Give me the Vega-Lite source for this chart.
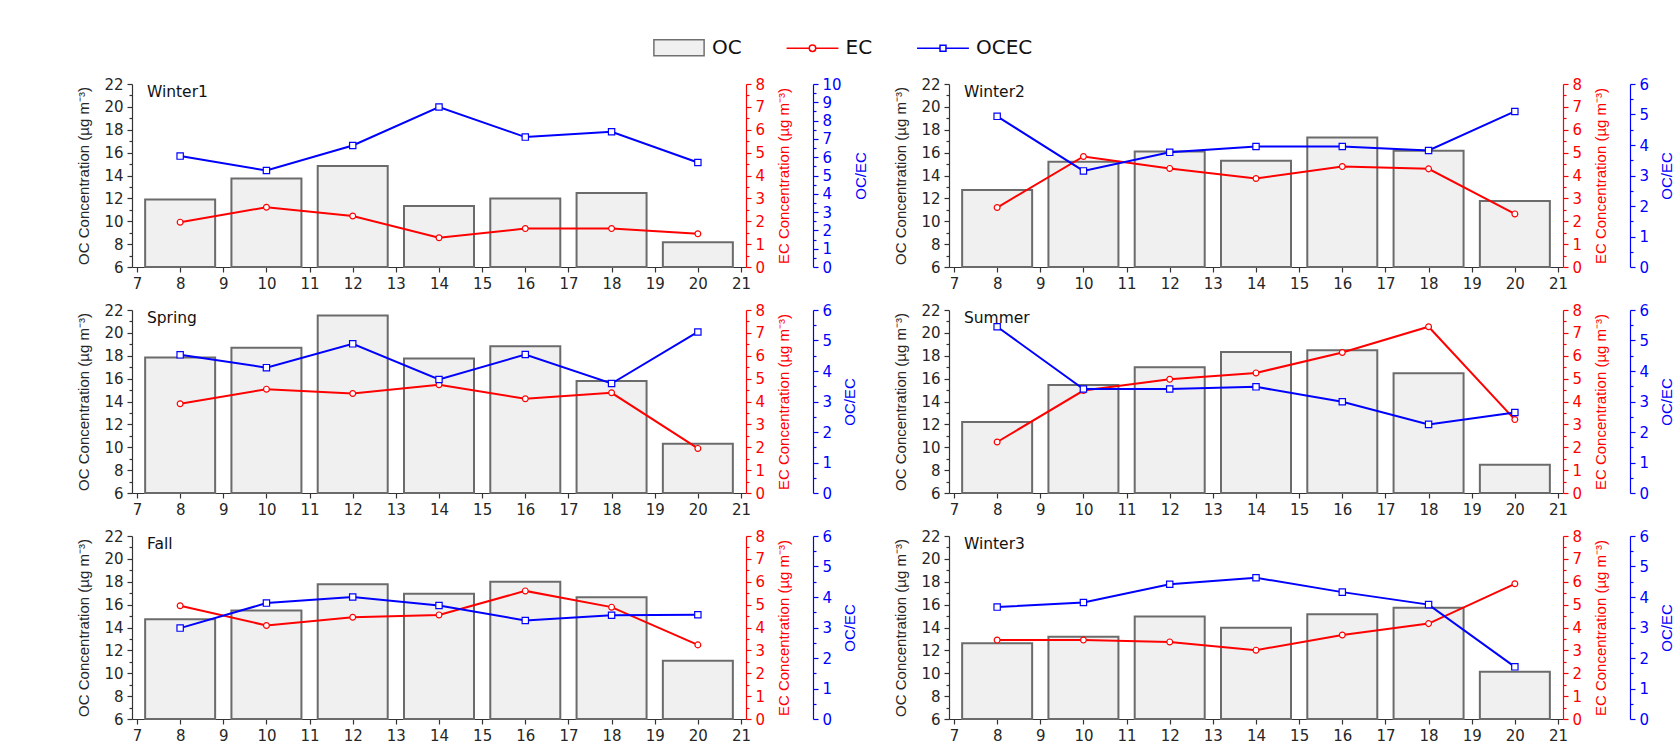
{
"$schema": "https://vega.github.io/schema/vega-lite/v6.json",
"background": "white",
"autosize": {"type": "none"},
"padding": {"left": 132, "top": 84, "right": 1544, "bottom": 662},
"data": {"values": [
{"p":"Winter1","h":8,"OC":11.9,"EC":1.96,"OCEC":6.06},
{"p":"Winter1","h":10,"OC":13.74,"EC":2.61,"OCEC":5.27},
{"p":"Winter1","h":12,"OC":14.82,"EC":2.23,"OCEC":6.64},
{"p":"Winter1","h":14,"OC":11.34,"EC":1.28,"OCEC":8.74},
{"p":"Winter1","h":16,"OC":11.99,"EC":1.68,"OCEC":7.1},
{"p":"Winter1","h":18,"OC":12.48,"EC":1.68,"OCEC":7.39},
{"p":"Winter1","h":20,"OC":8.16,"EC":1.45,"OCEC":5.71},
{"p":"Winter2","h":8,"OC":12.74,"EC":2.6,"OCEC":4.94},
{"p":"Winter2","h":10,"OC":15.2,"EC":4.83,"OCEC":3.15},
{"p":"Winter2","h":12,"OC":16.1,"EC":4.31,"OCEC":3.76},
{"p":"Winter2","h":14,"OC":15.28,"EC":3.87,"OCEC":3.95},
{"p":"Winter2","h":16,"OC":17.33,"EC":4.39,"OCEC":3.95},
{"p":"Winter2","h":18,"OC":16.16,"EC":4.29,"OCEC":3.82},
{"p":"Winter2","h":20,"OC":11.78,"EC":2.32,"OCEC":5.1},
{"p":"Spring","h":8,"OC":17.84,"EC":3.9,"OCEC":4.53},
{"p":"Spring","h":10,"OC":18.71,"EC":4.54,"OCEC":4.11},
{"p":"Spring","h":12,"OC":21.53,"EC":4.35,"OCEC":4.89},
{"p":"Spring","h":14,"OC":17.75,"EC":4.73,"OCEC":3.72},
{"p":"Spring","h":16,"OC":18.83,"EC":4.12,"OCEC":4.54},
{"p":"Spring","h":18,"OC":15.8,"EC":4.38,"OCEC":3.59},
{"p":"Spring","h":20,"OC":10.31,"EC":1.95,"OCEC":5.28},
{"p":"Summer","h":8,"OC":12.2,"EC":2.23,"OCEC":5.45},
{"p":"Summer","h":10,"OC":15.45,"EC":4.48,"OCEC":3.41},
{"p":"Summer","h":12,"OC":17.0,"EC":4.97,"OCEC":3.41},
{"p":"Summer","h":14,"OC":18.33,"EC":5.25,"OCEC":3.48},
{"p":"Summer","h":16,"OC":18.48,"EC":6.14,"OCEC":2.99},
{"p":"Summer","h":18,"OC":16.47,"EC":7.27,"OCEC":2.25},
{"p":"Summer","h":20,"OC":8.47,"EC":3.21,"OCEC":2.64},
{"p":"Fall","h":8,"OC":14.73,"EC":4.95,"OCEC":2.98},
{"p":"Fall","h":10,"OC":15.48,"EC":4.09,"OCEC":3.8},
{"p":"Fall","h":12,"OC":17.78,"EC":4.45,"OCEC":4.0},
{"p":"Fall","h":14,"OC":16.94,"EC":4.55,"OCEC":3.72},
{"p":"Fall","h":16,"OC":17.99,"EC":5.6,"OCEC":3.23},
{"p":"Fall","h":18,"OC":16.65,"EC":4.89,"OCEC":3.4},
{"p":"Fall","h":20,"OC":11.09,"EC":3.24,"OCEC":3.42},
{"p":"Winter3","h":8,"OC":12.63,"EC":3.45,"OCEC":3.67},
{"p":"Winter3","h":10,"OC":13.19,"EC":3.45,"OCEC":3.82},
{"p":"Winter3","h":12,"OC":14.96,"EC":3.37,"OCEC":4.42},
{"p":"Winter3","h":14,"OC":13.97,"EC":3.01,"OCEC":4.63},
{"p":"Winter3","h":16,"OC":15.16,"EC":3.67,"OCEC":4.16},
{"p":"Winter3","h":18,"OC":15.72,"EC":4.17,"OCEC":3.75},
{"p":"Winter3","h":20,"OC":10.13,"EC":5.91,"OCEC":1.71}
]},
"columns": 2,
"spacing": {"row": 43, "column": 203},
"bounds": "flush",
"concat": [
{
 "width": 614, "height": 183,
 "transform": [{"filter": "datum.p === 'Winter1'"}],
 "layer": [
  {"layer": [
    {"mark": {"type": "bar", "width": 70, "fill": "#f0f0f0", "stroke": "#6b6b6b", "strokeWidth": 2},
     "encoding": {
      "x": {"field": "h", "type": "quantitative", "scale": {"domain": [7,21], "nice": false, "zero": false},
            "axis": {"values": [7,8,9,10,11,12,13,14,15,16,17,18,19,20,21], "title": null, "domainColor": "#333333", "tickColor": "#333333", "labelColor": "#262626"}},
      "y": {"field": "OC", "type": "quantitative", "scale": {"domain": [6,22], "nice": false, "zero": false},
            "axis": {"orient": "left", "values": [6,8,10,12,14,16,18,20,22], "title": "OC Concentration (µg m⁻³)", "titleX": -49, "titleY": 91.5, "titleAngle": 270, "titleAlign": "center", "titleBaseline": "middle", "titleColor": "#262626", "domainColor": "#333333", "tickColor": "#333333", "labelColor": "#262626"}},
      "y2": {"datum": 6}
     }},
    {"data": {"values": [{"label": "Winter1"}]},
     "mark": {"type": "text", "align": "left", "baseline": "middle", "font": "DejaVu Sans", "fontSize": 15.5, "color": "#111111"},
     "encoding": {
      "x": {"datum": 7.23, "type": "quantitative"},
      "y": {"datum": 21.27, "type": "quantitative", "axis": {"orient": "left", "values": [7,9,11,13,15,17,19,21], "labels": false, "domain": false, "tickSize": 3, "tickColor": "#333333", "title": null}},
      "text": {"field": "label"}
     }}
   ],
   "resolve": {"axis": {"y": "independent"}}
  },
  {"layer": [
    {"mark": {"type": "line", "color": "#ff0000", "strokeWidth": 2},
     "encoding": {"x": {"field": "h", "type": "quantitative"},
      "y": {"field": "EC", "type": "quantitative", "scale": {"domain": [0,8], "nice": false, "zero": false},
       "axis": {"orient": "right", "values": [0,1,2,3,4,5,6,7,8], "title": "EC Concentration (µg m⁻³)", "titleX": 37, "titleY": 91.5, "titleAngle": 270, "titleAlign": "center", "titleBaseline": "middle", "titleColor": "#ff0000", "domainColor": "#ff0000", "tickColor": "#ff0000", "labelColor": "#ff0000"}}}},
    {"mark": {"type": "point", "shape": "circle", "filled": true, "fill": "#ffffff", "stroke": "#ff0000", "strokeWidth": 1.2, "size": 34, "opacity": 1},
     "encoding": {"x": {"field": "h", "type": "quantitative"},
      "y": {"field": "EC", "type": "quantitative", "axis": {"orient": "right", "values": [0.5,1.5,2.5,3.5,4.5,5.5,6.5,7.5], "labels": false, "domain": false, "tickSize": 3, "tickColor": "#ff0000", "title": null}}}}
   ],
   "resolve": {"axis": {"y": "independent"}}
  },
  {"layer": [
    {"mark": {"type": "line", "color": "#0000ff", "strokeWidth": 2},
     "encoding": {"x": {"field": "h", "type": "quantitative"},
      "y": {"field": "OCEC", "type": "quantitative", "scale": {"domain": [0,10], "nice": false, "zero": false},
       "axis": {"orient": "right", "offset": 67, "values": [0,1,2,3,4,5,6,7,8,9,10], "title": "OC/EC", "titleX": 47, "titleY": 91.5, "titleAngle": 270, "titleAlign": "center", "titleBaseline": "middle", "titleColor": "#0000ff", "domainColor": "#0000ff", "tickColor": "#0000ff", "labelColor": "#0000ff"}}}},
    {"mark": {"type": "point", "shape": "square", "filled": true, "fill": "#ffffff", "stroke": "#0000ff", "strokeWidth": 1.2, "size": 40, "opacity": 1},
     "encoding": {"x": {"field": "h", "type": "quantitative"},
      "y": {"field": "OCEC", "type": "quantitative", "axis": {"orient": "right", "offset": 67, "values": [0.5,1.5,2.5,3.5,4.5,5.5,6.5,7.5,8.5,9.5], "labels": false, "domain": false, "tickSize": 3, "tickColor": "#0000ff", "title": null}}}}
   ],
   "resolve": {"axis": {"y": "independent"}}
  },
  {"data": {"values": [{"s": "OC"}, {"s": "EC"}, {"s": "OCEC"}]},
   "mark": {"type": "point", "filled": true, "opacity": 0},
   "encoding": {
    "shape": {"field": "s", "type": "nominal", "scale": {"domain": ["OC","EC","OCEC"], "range": ["M-0.93,-0.3L0.93,-0.3L0.93,0.3L-0.93,0.3Z", "M-0.96,0L-0.12,0M0.12,0L0.96,0M0.12,0A0.12,0.12,0,1,1,-0.12,0A0.12,0.12,0,1,1,0.12,0Z", "M-0.96,0L-0.11,0M0.11,0L0.96,0M-0.11,-0.11L0.11,-0.11L0.11,0.11L-0.11,0.11Z"]},
      "legend": {"orient": "none", "legendX": 519, "legendY": -64.7, "direction": "horizontal", "columns": 3, "columnPadding": 41.5, "labelOffset": 5, "symbolSize": 2916, "symbolStrokeWidth": 1.5, "symbolOpacity": 1, "labelFont": "DejaVu Sans", "labelFontSize": 20, "labelColor": "#111111", "title": null, "padding": 0, "rowPadding": 0}},
    "stroke": {"field": "s", "type": "nominal", "scale": {"domain": ["OC","EC","OCEC"], "range": ["#707070", "#ff0000", "#0000ff"]},
      "legend": {"orient": "none", "legendX": 519, "legendY": -64.7, "direction": "horizontal", "columns": 3, "columnPadding": 41.5, "labelOffset": 5, "symbolSize": 2916, "symbolStrokeWidth": 1.5, "symbolOpacity": 1, "labelFont": "DejaVu Sans", "labelFontSize": 20, "labelColor": "#111111", "title": null, "padding": 0, "rowPadding": 0}},
    "fill": {"field": "s", "type": "nominal", "scale": {"domain": ["OC","EC","OCEC"], "range": ["#f0f0f0", "#ffffff", "#ffffff"]},
      "legend": {"orient": "none", "legendX": 519, "legendY": -64.7, "direction": "horizontal", "columns": 3, "columnPadding": 41.5, "labelOffset": 5, "symbolSize": 2916, "symbolStrokeWidth": 1.5, "symbolOpacity": 1, "labelFont": "DejaVu Sans", "labelFontSize": 20, "labelColor": "#111111", "title": null, "padding": 0, "rowPadding": 0}}
   }}
 ],
 "resolve": {"scale": {"y": "independent"}}
},
{
 "width": 614, "height": 183,
 "transform": [{"filter": "datum.p === 'Winter2'"}],
 "layer": [
  {"layer": [
    {"mark": {"type": "bar", "width": 70, "fill": "#f0f0f0", "stroke": "#6b6b6b", "strokeWidth": 2},
     "encoding": {
      "x": {"field": "h", "type": "quantitative", "scale": {"domain": [7,21], "nice": false, "zero": false},
            "axis": {"values": [7,8,9,10,11,12,13,14,15,16,17,18,19,20,21], "title": null, "domainColor": "#333333", "tickColor": "#333333", "labelColor": "#262626"}},
      "y": {"field": "OC", "type": "quantitative", "scale": {"domain": [6,22], "nice": false, "zero": false},
            "axis": {"orient": "left", "values": [6,8,10,12,14,16,18,20,22], "title": "OC Concentration (µg m⁻³)", "titleX": -49, "titleY": 91.5, "titleAngle": 270, "titleAlign": "center", "titleBaseline": "middle", "titleColor": "#262626", "domainColor": "#333333", "tickColor": "#333333", "labelColor": "#262626"}},
      "y2": {"datum": 6}
     }},
    {"data": {"values": [{"label": "Winter2"}]},
     "mark": {"type": "text", "align": "left", "baseline": "middle", "font": "DejaVu Sans", "fontSize": 15.5, "color": "#111111"},
     "encoding": {
      "x": {"datum": 7.23, "type": "quantitative"},
      "y": {"datum": 21.27, "type": "quantitative", "axis": {"orient": "left", "values": [7,9,11,13,15,17,19,21], "labels": false, "domain": false, "tickSize": 3, "tickColor": "#333333", "title": null}},
      "text": {"field": "label"}
     }}
   ],
   "resolve": {"axis": {"y": "independent"}}
  },
  {"layer": [
    {"mark": {"type": "line", "color": "#ff0000", "strokeWidth": 2},
     "encoding": {"x": {"field": "h", "type": "quantitative"},
      "y": {"field": "EC", "type": "quantitative", "scale": {"domain": [0,8], "nice": false, "zero": false},
       "axis": {"orient": "right", "values": [0,1,2,3,4,5,6,7,8], "title": "EC Concentration (µg m⁻³)", "titleX": 37, "titleY": 91.5, "titleAngle": 270, "titleAlign": "center", "titleBaseline": "middle", "titleColor": "#ff0000", "domainColor": "#ff0000", "tickColor": "#ff0000", "labelColor": "#ff0000"}}}},
    {"mark": {"type": "point", "shape": "circle", "filled": true, "fill": "#ffffff", "stroke": "#ff0000", "strokeWidth": 1.2, "size": 34, "opacity": 1},
     "encoding": {"x": {"field": "h", "type": "quantitative"},
      "y": {"field": "EC", "type": "quantitative", "axis": {"orient": "right", "values": [0.5,1.5,2.5,3.5,4.5,5.5,6.5,7.5], "labels": false, "domain": false, "tickSize": 3, "tickColor": "#ff0000", "title": null}}}}
   ],
   "resolve": {"axis": {"y": "independent"}}
  },
  {"layer": [
    {"mark": {"type": "line", "color": "#0000ff", "strokeWidth": 2},
     "encoding": {"x": {"field": "h", "type": "quantitative"},
      "y": {"field": "OCEC", "type": "quantitative", "scale": {"domain": [0,6], "nice": false, "zero": false},
       "axis": {"orient": "right", "offset": 67, "values": [0,1,2,3,4,5,6], "title": "OC/EC", "titleX": 36, "titleY": 91.5, "titleAngle": 270, "titleAlign": "center", "titleBaseline": "middle", "titleColor": "#0000ff", "domainColor": "#0000ff", "tickColor": "#0000ff", "labelColor": "#0000ff"}}}},
    {"mark": {"type": "point", "shape": "square", "filled": true, "fill": "#ffffff", "stroke": "#0000ff", "strokeWidth": 1.2, "size": 40, "opacity": 1},
     "encoding": {"x": {"field": "h", "type": "quantitative"},
      "y": {"field": "OCEC", "type": "quantitative", "axis": {"orient": "right", "offset": 67, "values": [0.5,1.5,2.5,3.5,4.5,5.5], "labels": false, "domain": false, "tickSize": 3, "tickColor": "#0000ff", "title": null}}}}
   ],
   "resolve": {"axis": {"y": "independent"}}
  }
 ],
 "resolve": {"scale": {"y": "independent"}}
},
{
 "width": 614, "height": 183,
 "transform": [{"filter": "datum.p === 'Spring'"}],
 "layer": [
  {"layer": [
    {"mark": {"type": "bar", "width": 70, "fill": "#f0f0f0", "stroke": "#6b6b6b", "strokeWidth": 2},
     "encoding": {
      "x": {"field": "h", "type": "quantitative", "scale": {"domain": [7,21], "nice": false, "zero": false},
            "axis": {"values": [7,8,9,10,11,12,13,14,15,16,17,18,19,20,21], "title": null, "domainColor": "#333333", "tickColor": "#333333", "labelColor": "#262626"}},
      "y": {"field": "OC", "type": "quantitative", "scale": {"domain": [6,22], "nice": false, "zero": false},
            "axis": {"orient": "left", "values": [6,8,10,12,14,16,18,20,22], "title": "OC Concentration (µg m⁻³)", "titleX": -49, "titleY": 91.5, "titleAngle": 270, "titleAlign": "center", "titleBaseline": "middle", "titleColor": "#262626", "domainColor": "#333333", "tickColor": "#333333", "labelColor": "#262626"}},
      "y2": {"datum": 6}
     }},
    {"data": {"values": [{"label": "Spring"}]},
     "mark": {"type": "text", "align": "left", "baseline": "middle", "font": "DejaVu Sans", "fontSize": 15.5, "color": "#111111"},
     "encoding": {
      "x": {"datum": 7.23, "type": "quantitative"},
      "y": {"datum": 21.27, "type": "quantitative", "axis": {"orient": "left", "values": [7,9,11,13,15,17,19,21], "labels": false, "domain": false, "tickSize": 3, "tickColor": "#333333", "title": null}},
      "text": {"field": "label"}
     }}
   ],
   "resolve": {"axis": {"y": "independent"}}
  },
  {"layer": [
    {"mark": {"type": "line", "color": "#ff0000", "strokeWidth": 2},
     "encoding": {"x": {"field": "h", "type": "quantitative"},
      "y": {"field": "EC", "type": "quantitative", "scale": {"domain": [0,8], "nice": false, "zero": false},
       "axis": {"orient": "right", "values": [0,1,2,3,4,5,6,7,8], "title": "EC Concentration (µg m⁻³)", "titleX": 37, "titleY": 91.5, "titleAngle": 270, "titleAlign": "center", "titleBaseline": "middle", "titleColor": "#ff0000", "domainColor": "#ff0000", "tickColor": "#ff0000", "labelColor": "#ff0000"}}}},
    {"mark": {"type": "point", "shape": "circle", "filled": true, "fill": "#ffffff", "stroke": "#ff0000", "strokeWidth": 1.2, "size": 34, "opacity": 1},
     "encoding": {"x": {"field": "h", "type": "quantitative"},
      "y": {"field": "EC", "type": "quantitative", "axis": {"orient": "right", "values": [0.5,1.5,2.5,3.5,4.5,5.5,6.5,7.5], "labels": false, "domain": false, "tickSize": 3, "tickColor": "#ff0000", "title": null}}}}
   ],
   "resolve": {"axis": {"y": "independent"}}
  },
  {"layer": [
    {"mark": {"type": "line", "color": "#0000ff", "strokeWidth": 2},
     "encoding": {"x": {"field": "h", "type": "quantitative"},
      "y": {"field": "OCEC", "type": "quantitative", "scale": {"domain": [0,6], "nice": false, "zero": false},
       "axis": {"orient": "right", "offset": 67, "values": [0,1,2,3,4,5,6], "title": "OC/EC", "titleX": 36, "titleY": 91.5, "titleAngle": 270, "titleAlign": "center", "titleBaseline": "middle", "titleColor": "#0000ff", "domainColor": "#0000ff", "tickColor": "#0000ff", "labelColor": "#0000ff"}}}},
    {"mark": {"type": "point", "shape": "square", "filled": true, "fill": "#ffffff", "stroke": "#0000ff", "strokeWidth": 1.2, "size": 40, "opacity": 1},
     "encoding": {"x": {"field": "h", "type": "quantitative"},
      "y": {"field": "OCEC", "type": "quantitative", "axis": {"orient": "right", "offset": 67, "values": [0.5,1.5,2.5,3.5,4.5,5.5], "labels": false, "domain": false, "tickSize": 3, "tickColor": "#0000ff", "title": null}}}}
   ],
   "resolve": {"axis": {"y": "independent"}}
  }
 ],
 "resolve": {"scale": {"y": "independent"}}
},
{
 "width": 614, "height": 183,
 "transform": [{"filter": "datum.p === 'Summer'"}],
 "layer": [
  {"layer": [
    {"mark": {"type": "bar", "width": 70, "fill": "#f0f0f0", "stroke": "#6b6b6b", "strokeWidth": 2},
     "encoding": {
      "x": {"field": "h", "type": "quantitative", "scale": {"domain": [7,21], "nice": false, "zero": false},
            "axis": {"values": [7,8,9,10,11,12,13,14,15,16,17,18,19,20,21], "title": null, "domainColor": "#333333", "tickColor": "#333333", "labelColor": "#262626"}},
      "y": {"field": "OC", "type": "quantitative", "scale": {"domain": [6,22], "nice": false, "zero": false},
            "axis": {"orient": "left", "values": [6,8,10,12,14,16,18,20,22], "title": "OC Concentration (µg m⁻³)", "titleX": -49, "titleY": 91.5, "titleAngle": 270, "titleAlign": "center", "titleBaseline": "middle", "titleColor": "#262626", "domainColor": "#333333", "tickColor": "#333333", "labelColor": "#262626"}},
      "y2": {"datum": 6}
     }},
    {"data": {"values": [{"label": "Summer"}]},
     "mark": {"type": "text", "align": "left", "baseline": "middle", "font": "DejaVu Sans", "fontSize": 15.5, "color": "#111111"},
     "encoding": {
      "x": {"datum": 7.23, "type": "quantitative"},
      "y": {"datum": 21.27, "type": "quantitative", "axis": {"orient": "left", "values": [7,9,11,13,15,17,19,21], "labels": false, "domain": false, "tickSize": 3, "tickColor": "#333333", "title": null}},
      "text": {"field": "label"}
     }}
   ],
   "resolve": {"axis": {"y": "independent"}}
  },
  {"layer": [
    {"mark": {"type": "line", "color": "#ff0000", "strokeWidth": 2},
     "encoding": {"x": {"field": "h", "type": "quantitative"},
      "y": {"field": "EC", "type": "quantitative", "scale": {"domain": [0,8], "nice": false, "zero": false},
       "axis": {"orient": "right", "values": [0,1,2,3,4,5,6,7,8], "title": "EC Concentration (µg m⁻³)", "titleX": 37, "titleY": 91.5, "titleAngle": 270, "titleAlign": "center", "titleBaseline": "middle", "titleColor": "#ff0000", "domainColor": "#ff0000", "tickColor": "#ff0000", "labelColor": "#ff0000"}}}},
    {"mark": {"type": "point", "shape": "circle", "filled": true, "fill": "#ffffff", "stroke": "#ff0000", "strokeWidth": 1.2, "size": 34, "opacity": 1},
     "encoding": {"x": {"field": "h", "type": "quantitative"},
      "y": {"field": "EC", "type": "quantitative", "axis": {"orient": "right", "values": [0.5,1.5,2.5,3.5,4.5,5.5,6.5,7.5], "labels": false, "domain": false, "tickSize": 3, "tickColor": "#ff0000", "title": null}}}}
   ],
   "resolve": {"axis": {"y": "independent"}}
  },
  {"layer": [
    {"mark": {"type": "line", "color": "#0000ff", "strokeWidth": 2},
     "encoding": {"x": {"field": "h", "type": "quantitative"},
      "y": {"field": "OCEC", "type": "quantitative", "scale": {"domain": [0,6], "nice": false, "zero": false},
       "axis": {"orient": "right", "offset": 67, "values": [0,1,2,3,4,5,6], "title": "OC/EC", "titleX": 36, "titleY": 91.5, "titleAngle": 270, "titleAlign": "center", "titleBaseline": "middle", "titleColor": "#0000ff", "domainColor": "#0000ff", "tickColor": "#0000ff", "labelColor": "#0000ff"}}}},
    {"mark": {"type": "point", "shape": "square", "filled": true, "fill": "#ffffff", "stroke": "#0000ff", "strokeWidth": 1.2, "size": 40, "opacity": 1},
     "encoding": {"x": {"field": "h", "type": "quantitative"},
      "y": {"field": "OCEC", "type": "quantitative", "axis": {"orient": "right", "offset": 67, "values": [0.5,1.5,2.5,3.5,4.5,5.5], "labels": false, "domain": false, "tickSize": 3, "tickColor": "#0000ff", "title": null}}}}
   ],
   "resolve": {"axis": {"y": "independent"}}
  }
 ],
 "resolve": {"scale": {"y": "independent"}}
},
{
 "width": 614, "height": 183,
 "transform": [{"filter": "datum.p === 'Fall'"}],
 "layer": [
  {"layer": [
    {"mark": {"type": "bar", "width": 70, "fill": "#f0f0f0", "stroke": "#6b6b6b", "strokeWidth": 2},
     "encoding": {
      "x": {"field": "h", "type": "quantitative", "scale": {"domain": [7,21], "nice": false, "zero": false},
            "axis": {"values": [7,8,9,10,11,12,13,14,15,16,17,18,19,20,21], "title": null, "domainColor": "#333333", "tickColor": "#333333", "labelColor": "#262626"}},
      "y": {"field": "OC", "type": "quantitative", "scale": {"domain": [6,22], "nice": false, "zero": false},
            "axis": {"orient": "left", "values": [6,8,10,12,14,16,18,20,22], "title": "OC Concentration (µg m⁻³)", "titleX": -49, "titleY": 91.5, "titleAngle": 270, "titleAlign": "center", "titleBaseline": "middle", "titleColor": "#262626", "domainColor": "#333333", "tickColor": "#333333", "labelColor": "#262626"}},
      "y2": {"datum": 6}
     }},
    {"data": {"values": [{"label": "Fall"}]},
     "mark": {"type": "text", "align": "left", "baseline": "middle", "font": "DejaVu Sans", "fontSize": 15.5, "color": "#111111"},
     "encoding": {
      "x": {"datum": 7.23, "type": "quantitative"},
      "y": {"datum": 21.27, "type": "quantitative", "axis": {"orient": "left", "values": [7,9,11,13,15,17,19,21], "labels": false, "domain": false, "tickSize": 3, "tickColor": "#333333", "title": null}},
      "text": {"field": "label"}
     }}
   ],
   "resolve": {"axis": {"y": "independent"}}
  },
  {"layer": [
    {"mark": {"type": "line", "color": "#ff0000", "strokeWidth": 2},
     "encoding": {"x": {"field": "h", "type": "quantitative"},
      "y": {"field": "EC", "type": "quantitative", "scale": {"domain": [0,8], "nice": false, "zero": false},
       "axis": {"orient": "right", "values": [0,1,2,3,4,5,6,7,8], "title": "EC Concentration (µg m⁻³)", "titleX": 37, "titleY": 91.5, "titleAngle": 270, "titleAlign": "center", "titleBaseline": "middle", "titleColor": "#ff0000", "domainColor": "#ff0000", "tickColor": "#ff0000", "labelColor": "#ff0000"}}}},
    {"mark": {"type": "point", "shape": "circle", "filled": true, "fill": "#ffffff", "stroke": "#ff0000", "strokeWidth": 1.2, "size": 34, "opacity": 1},
     "encoding": {"x": {"field": "h", "type": "quantitative"},
      "y": {"field": "EC", "type": "quantitative", "axis": {"orient": "right", "values": [0.5,1.5,2.5,3.5,4.5,5.5,6.5,7.5], "labels": false, "domain": false, "tickSize": 3, "tickColor": "#ff0000", "title": null}}}}
   ],
   "resolve": {"axis": {"y": "independent"}}
  },
  {"layer": [
    {"mark": {"type": "line", "color": "#0000ff", "strokeWidth": 2},
     "encoding": {"x": {"field": "h", "type": "quantitative"},
      "y": {"field": "OCEC", "type": "quantitative", "scale": {"domain": [0,6], "nice": false, "zero": false},
       "axis": {"orient": "right", "offset": 67, "values": [0,1,2,3,4,5,6], "title": "OC/EC", "titleX": 36, "titleY": 91.5, "titleAngle": 270, "titleAlign": "center", "titleBaseline": "middle", "titleColor": "#0000ff", "domainColor": "#0000ff", "tickColor": "#0000ff", "labelColor": "#0000ff"}}}},
    {"mark": {"type": "point", "shape": "square", "filled": true, "fill": "#ffffff", "stroke": "#0000ff", "strokeWidth": 1.2, "size": 40, "opacity": 1},
     "encoding": {"x": {"field": "h", "type": "quantitative"},
      "y": {"field": "OCEC", "type": "quantitative", "axis": {"orient": "right", "offset": 67, "values": [0.5,1.5,2.5,3.5,4.5,5.5], "labels": false, "domain": false, "tickSize": 3, "tickColor": "#0000ff", "title": null}}}}
   ],
   "resolve": {"axis": {"y": "independent"}}
  }
 ],
 "resolve": {"scale": {"y": "independent"}}
},
{
 "width": 614, "height": 183,
 "transform": [{"filter": "datum.p === 'Winter3'"}],
 "layer": [
  {"layer": [
    {"mark": {"type": "bar", "width": 70, "fill": "#f0f0f0", "stroke": "#6b6b6b", "strokeWidth": 2},
     "encoding": {
      "x": {"field": "h", "type": "quantitative", "scale": {"domain": [7,21], "nice": false, "zero": false},
            "axis": {"values": [7,8,9,10,11,12,13,14,15,16,17,18,19,20,21], "title": null, "domainColor": "#333333", "tickColor": "#333333", "labelColor": "#262626"}},
      "y": {"field": "OC", "type": "quantitative", "scale": {"domain": [6,22], "nice": false, "zero": false},
            "axis": {"orient": "left", "values": [6,8,10,12,14,16,18,20,22], "title": "OC Concentration (µg m⁻³)", "titleX": -49, "titleY": 91.5, "titleAngle": 270, "titleAlign": "center", "titleBaseline": "middle", "titleColor": "#262626", "domainColor": "#333333", "tickColor": "#333333", "labelColor": "#262626"}},
      "y2": {"datum": 6}
     }},
    {"data": {"values": [{"label": "Winter3"}]},
     "mark": {"type": "text", "align": "left", "baseline": "middle", "font": "DejaVu Sans", "fontSize": 15.5, "color": "#111111"},
     "encoding": {
      "x": {"datum": 7.23, "type": "quantitative"},
      "y": {"datum": 21.27, "type": "quantitative", "axis": {"orient": "left", "values": [7,9,11,13,15,17,19,21], "labels": false, "domain": false, "tickSize": 3, "tickColor": "#333333", "title": null}},
      "text": {"field": "label"}
     }}
   ],
   "resolve": {"axis": {"y": "independent"}}
  },
  {"layer": [
    {"mark": {"type": "line", "color": "#ff0000", "strokeWidth": 2},
     "encoding": {"x": {"field": "h", "type": "quantitative"},
      "y": {"field": "EC", "type": "quantitative", "scale": {"domain": [0,8], "nice": false, "zero": false},
       "axis": {"orient": "right", "values": [0,1,2,3,4,5,6,7,8], "title": "EC Concentration (µg m⁻³)", "titleX": 37, "titleY": 91.5, "titleAngle": 270, "titleAlign": "center", "titleBaseline": "middle", "titleColor": "#ff0000", "domainColor": "#ff0000", "tickColor": "#ff0000", "labelColor": "#ff0000"}}}},
    {"mark": {"type": "point", "shape": "circle", "filled": true, "fill": "#ffffff", "stroke": "#ff0000", "strokeWidth": 1.2, "size": 34, "opacity": 1},
     "encoding": {"x": {"field": "h", "type": "quantitative"},
      "y": {"field": "EC", "type": "quantitative", "axis": {"orient": "right", "values": [0.5,1.5,2.5,3.5,4.5,5.5,6.5,7.5], "labels": false, "domain": false, "tickSize": 3, "tickColor": "#ff0000", "title": null}}}}
   ],
   "resolve": {"axis": {"y": "independent"}}
  },
  {"layer": [
    {"mark": {"type": "line", "color": "#0000ff", "strokeWidth": 2},
     "encoding": {"x": {"field": "h", "type": "quantitative"},
      "y": {"field": "OCEC", "type": "quantitative", "scale": {"domain": [0,6], "nice": false, "zero": false},
       "axis": {"orient": "right", "offset": 67, "values": [0,1,2,3,4,5,6], "title": "OC/EC", "titleX": 36, "titleY": 91.5, "titleAngle": 270, "titleAlign": "center", "titleBaseline": "middle", "titleColor": "#0000ff", "domainColor": "#0000ff", "tickColor": "#0000ff", "labelColor": "#0000ff"}}}},
    {"mark": {"type": "point", "shape": "square", "filled": true, "fill": "#ffffff", "stroke": "#0000ff", "strokeWidth": 1.2, "size": 40, "opacity": 1},
     "encoding": {"x": {"field": "h", "type": "quantitative"},
      "y": {"field": "OCEC", "type": "quantitative", "axis": {"orient": "right", "offset": 67, "values": [0.5,1.5,2.5,3.5,4.5,5.5], "labels": false, "domain": false, "tickSize": 3, "tickColor": "#0000ff", "title": null}}}}
   ],
   "resolve": {"axis": {"y": "independent"}}
  }
 ],
 "resolve": {"scale": {"y": "independent"}}
}
],
"config": {
 "view": {"stroke": null},
 "axis": {"grid": false, "labelFont": "DejaVu Sans", "labelFontSize": 15, "titleFont": "Liberation Sans", "titleFontSize": 15, "titleFontWeight": "normal", "tickSize": 5, "labelPadding": 4, "domainWidth": 1.2, "tickWidth": 1.2, "labelOverlap": false, "labelFlush": false}
}
}
